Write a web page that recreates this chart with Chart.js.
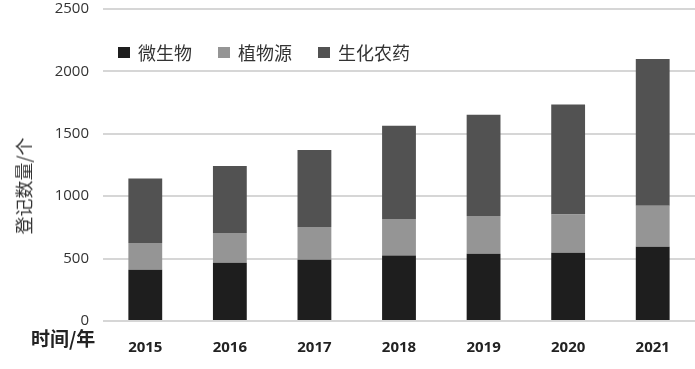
<!DOCTYPE html>
<html>
<head>
<meta charset="utf-8">
<script src="https://cdn.jsdelivr.net/npm/chart.js@4/dist/chart.umd.min.js"></script>
<style>
  html, body { margin: 0; padding: 0; background: #fff; }
  #wrap { position: relative; width: 695px; height: 369px; }
  canvas { position: absolute; left: 0; top: 0; }
  .lbl { position: absolute; font-family: "Noto Sans CJK SC", sans-serif; color: #222; white-space: nowrap; }
  #legend { left: 118px; top: 39px; display: flex; align-items: center; font-size: 18px; color: #333; }
  #legend span.box { display: inline-block; width: 12px; height: 11px; margin-right: 8px; }
  #legend span.item { display: inline-flex; align-items: center; margin-right: 26px; }
  #xTitle { left: 31px; top: 324px; font-size: 19px; font-weight: bold; }
  #yTitle { left: 23px; top: 186px; font-size: 18px; color: #333;
            transform: translate(-50%, -50%) rotate(-90deg); }
</style>
</head>
<body>
<div id="wrap">
  <canvas id="c" width="695" height="369"></canvas>
  <div id="legend" class="lbl"></div>
  <div id="xTitle" class="lbl">时间/年</div>
  <div id="yTitle" class="lbl">登记数量/个</div>
</div>
<script>
const C = {
  micro: '#1e1e1e',
  plant: '#959595',
  bio: '#525252',
  grid: '#d6d6d6',
  text: '#333',
};

const years = ['2015', '2016', '2017', '2018', '2019', '2020', '2021'];
const microbial = [410, 466, 490, 524, 538, 546, 594];
const botanical = [216, 240, 264, 294, 304, 308, 330];
const biochemical = [516, 536, 616, 746, 810, 880, 1176];
const yTicks = [0, 500, 1000, 1500, 2000, 2500];

const series = [
  { label: '微生物', data: microbial, color: C.micro },
  { label: '植物源', data: botanical, color: C.plant },
  { label: '生化农药', data: biochemical, color: C.bio },
];

// legend as html
const legend = document.getElementById('legend');
series.forEach(s => {
  const item = document.createElement('span');
  item.className = 'item';
  item.innerHTML = '<span class="box" style="background:' + s.color + '"></span>' + s.label;
  legend.appendChild(item);
});

new Chart(document.getElementById('c'), {
  type: 'bar',
  data: {
    labels: years,
    datasets: series.map(s => ({
      label: s.label,
      data: s.data,
      backgroundColor: s.color,
      borderWidth: 0,
      barPercentage: 0.4,
      categoryPercentage: 1,
    })),
  },
  options: {
    responsive: false,
    animation: false,
    layout: { padding: 0 },
    plugins: { legend: { display: false }, tooltip: { enabled: false } },
    scales: {
      x: {
        stacked: true,
        grid: { display: false },
        border: { display: false },
        ticks: {
          color: '#222',
          padding: 10,
          font: { size: 15, weight: 'bold', family: "'Open Sans', sans-serif" },
        },
        afterFit: s => { s.height = 48; },
      },
      y: {
        stacked: true,
        min: 0,
        max: 2500,
        afterBuildTicks: s => { s.ticks = yTicks.map(v => ({ value: v })); },
        grid: { color: C.grid, lineWidth: 2, drawTicks: false },
        border: { display: false },
        ticks: {
          color: C.text,
          padding: 14,
          callback: v => String(v),
          font: { size: 15, family: "'Open Sans', sans-serif" },
        },
        afterFit: s => { s.width = 103; s.paddingTop = 9; s.paddingBottom = 0; },
      },
    },
  },
});
</script>
</body>
</html>
